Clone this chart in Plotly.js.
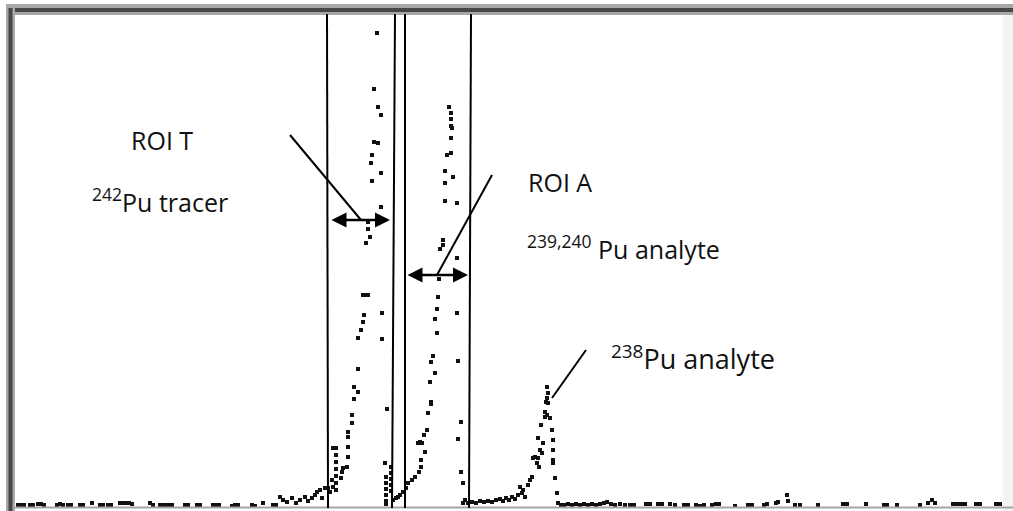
<!DOCTYPE html>
<html>
<head>
<meta charset="utf-8">
<script src="https://cdn.plot.ly/plotly-3.0.1.min.js"></script>
<style>
html,body{margin:0;padding:0;background:#fff;}
#chart{width:1013px;height:511px;}
</style>
</head>
<body>
<div id="chart"></div>
<script>
// ---- Spectrum data (channel, counts) ----
const baselineLowChannels = [18,21,24,30,33,38,41,44,57,60,63,68,71,80,83,92,100,103,108,111,120,123,126,129,132,150,153,160,163,166,169,172,185,188,197,200,213,216,219,232,235,238,252,255,263,273,276];
const baselineLowCounts   = [2,2,2,2,2,3,3,2,2,3,2,2,2,2,2,4,2,2,2,2,4,4,4,4,3,4,2,2,2,2,2,2,2,2,2,2,2,2,2,1,2,2,2,1,4,2,2];

const tracerChannels = [280,283,287,292,296,300,305,308,312,315,317,320,322,325,328,330,332,333,
  333,336,336,336,336,336,336,336,
  341,342,343,347,348,348,348,348,352,352,354,354,358,358,358,361,363,364,363,366,368,366,370,368,368,381,372,381,371,372,374,378,381,378,374,377,
  382,382,387,385,386,386,386,386,386,386,391,391,391,391,391,393,396,398,400,403];
const tracerCounts   = [10,7,5,9,4,7,10,6,9,12,15,17,9,19,19,15,27,20,
  59,59,52,45,38,31,24,17,
  29,35,39,40,50,60,70,75,84,92,108,120,115,138,169,177,185,192,212,212,212,264,270,278,285,300,326,334,344,352,365,364,392,400,418,474,
  194,168,98,44,30,24,18,12,6,3,40,34,28,22,16,7,9,10,12,15];

const analyteChannels = [406,408,412,415,419,421,421,425,418,420,422,424,427,428,431,431,430,435,431,433,437,435,437,438,439,440,443,443,445,445,445,447,451,451,452,451,451,451,449,
  453,457,457,457,458,461,458,461,463,463,465,
  468,472,476,480,484,488,492,496,500,503,506,509,512,515];
const analyteCounts   = [19,24,27,30,35,40,47,55,64,65,64,72,77,94,103,105,125,134,145,151,174,188,198,210,228,258,262,267,306,324,336,352,354,369,379,381,388,394,400,
  330,304,249,194,146,85,68,35,24,4,7,
  4,5,4,6,5,6,5,7,8,6,9,7,10,8];

const pu238Channels = [518,520,522,523,525,528,530,532,533,535,537,538,539,540,538,541,543,542,545,545,547,546,547,548,547,548,550,552,553,553,553,553,555,557,558,561];
const pu238Counts   = [12,20,14,17,10,22,27,30,49,50,44,49,40,57,69,82,64,54,95,90,92,105,109,114,120,104,89,77,67,57,47,44,29,14,4,2];

const baselineHighChannels = [564,568,572,576,580,584,588,592,596,600,604,607,611,615,620,625,630,634,646,650,658,662,670,675,684,688,696,700,704,712,716,719,735,748,752,764,767,776,778,787,788,795,800,818,843,847,866,884,887,897,920,928,932,935,953,957,961,965,976,980,996,1000];
const baselineHighCounts   = [2,3,2,3,2,3,2,3,2,3,4,5,3,2,3,2,2,2,3,3,3,3,3,2,2,2,2,1,2,2,3,3,1,2,2,2,3,4,5,12,6,2,2,2,3,3,3,2,2,2,2,4,7,4,3,3,3,3,3,3,3,3];

// ROI boundaries (channel at top, channel at bottom)
const roiTop    = [327, 395, 405, 471];
const roiBottom = [328, 392, 405, 469];
// ROI spans for double arrows: [start, end, countLevel]
const roiT = [330, 390, 287];
const roiA = [406, 468, 232];

// Labels
const labelROIT   = "ROI T";
const labelTracer = "<sup>242</sup>Pu tracer";
const labelROIA   = "ROI A";
const labelA      = "<sup>239,240</sup> Pu analyte";
const label238    = "<sup>238</sup>Pu analyte";

// ---- build ----
const xs = [].concat(baselineLowChannels, tracerChannels, analyteChannels, pu238Channels, baselineHighChannels);
const ys = [].concat(baselineLowCounts, tracerCounts, analyteCounts, pu238Counts, baselineHighCounts);

const W = 1013, H = 511;
const YMAX = 507, YMIN = -4;           // counts range mapped to the full height
const px = p => p / W;                 // pixel -> paper x
const py = p => 1 - p / H;             // pixel -> paper y

const trace = {
  x: xs, y: ys, type: 'scatter', mode: 'markers',
  marker: {symbol: 'square', size: 4, color: '#111', line: {width: 0}},
  hoverinfo: 'skip'
};

const shapes = [];
// frame
shapes.push({type:'rect', xref:'paper', yref:'paper', x0:px(1003), x1:px(1013), y0:0, y1:py(14), fillcolor:'#f3f3f3', line:{width:0}, layer:'below'});
shapes.push({type:'line', xref:'paper', yref:'paper', x0:px(10), x1:1, y0:py(507.5), y1:py(507.5), line:{color:'#a5a5a5', width:2}});
shapes.push({type:'rect', xref:'paper', yref:'paper', x0:px(6), x1:1, y0:py(15), y1:py(4), fillcolor:'#a8a8a8', line:{width:0}});
shapes.push({type:'line', xref:'paper', yref:'paper', x0:px(6), x1:1, y0:py(10), y1:py(10), line:{color:'#474747', width:4}});
shapes.push({type:'rect', xref:'paper', yref:'paper', x0:px(6), x1:px(15), y0:0, y1:py(4), fillcolor:'#a8a8a8', line:{width:0}});
shapes.push({type:'line', xref:'paper', yref:'paper', x0:px(10.5), x1:px(10.5), y0:0, y1:py(8), line:{color:'#474747', width:4}});

// ROI boundary lines
for (let i = 0; i < roiTop.length; i++) {
  shapes.push({type:'line', xref:'x', yref:'paper', x0:roiBottom[i], x1:roiTop[i], y0:py(508), y1:py(14), line:{color:'#000', width:2}});
}
// pointer lines (label -> peak)
shapes.push({type:'line', xref:'x', yref:'y', x0:290, y0:372, x1:361, y1:287, line:{color:'#000', width:2}});
shapes.push({type:'line', xref:'x', yref:'y', x0:492, y0:332, x1:437, y1:232, line:{color:'#000', width:2}});
shapes.push({type:'line', xref:'x', yref:'y', x0:586, y0:157, x1:552, y1:109, line:{color:'#000', width:2}});

const font = {family:'"Open Sans", Lato, sans-serif', size:25, color:'#111'};
const font238 = {family:'"Open Sans", Lato, sans-serif', size:27, color:'#111'};
const annotations = [
  {x:roiT[1], y:roiT[2], ax:roiT[0], ay:roiT[2], xref:'x', yref:'y', axref:'x', ayref:'y', text:'', showarrow:true, arrowhead:2, startarrowhead:2, arrowside:'end+start', arrowsize:1.2, startarrowsize:1.2, arrowwidth:2.5, arrowcolor:'#000'},
  {x:roiA[1], y:roiA[2], ax:roiA[0], ay:roiA[2], xref:'x', yref:'y', axref:'x', ayref:'y', text:'', showarrow:true, arrowhead:2, startarrowhead:2, arrowside:'end+start', arrowsize:1.2, startarrowsize:1.2, arrowwidth:2.5, arrowcolor:'#000'},
  {x:129, y:367, xref:'x', yref:'y', text:labelROIT, showarrow:false, xanchor:'left', yanchor:'middle', font:font},
  {x:90, y:307, xref:'x', yref:'y', text:labelTracer, showarrow:false, xanchor:'left', yanchor:'middle', font:font},
  {x:526, y:325, xref:'x', yref:'y', text:labelROIA, showarrow:false, xanchor:'left', yanchor:'middle', font:font},
  {x:525, y:260, xref:'x', yref:'y', text:labelA, showarrow:false, xanchor:'left', yanchor:'middle', font:font},
  {x:609, y:150, xref:'x', yref:'y', text:label238, showarrow:false, xanchor:'left', yanchor:'middle', font:font238}
];

const layout = {
  width: W, height: H,
  margin: {l:0, r:0, t:0, b:0},
  paper_bgcolor: '#fff', plot_bgcolor: '#fff',
  showlegend: false,
  xaxis: {range:[0, W], visible:false, fixedrange:true},
  yaxis: {range:[YMIN, YMAX], visible:false, fixedrange:true},
  shapes: shapes,
  annotations: annotations
};

Plotly.newPlot('chart', [trace], layout, {staticPlot:true, displayModeBar:false});
</script>
</body>
</html>
